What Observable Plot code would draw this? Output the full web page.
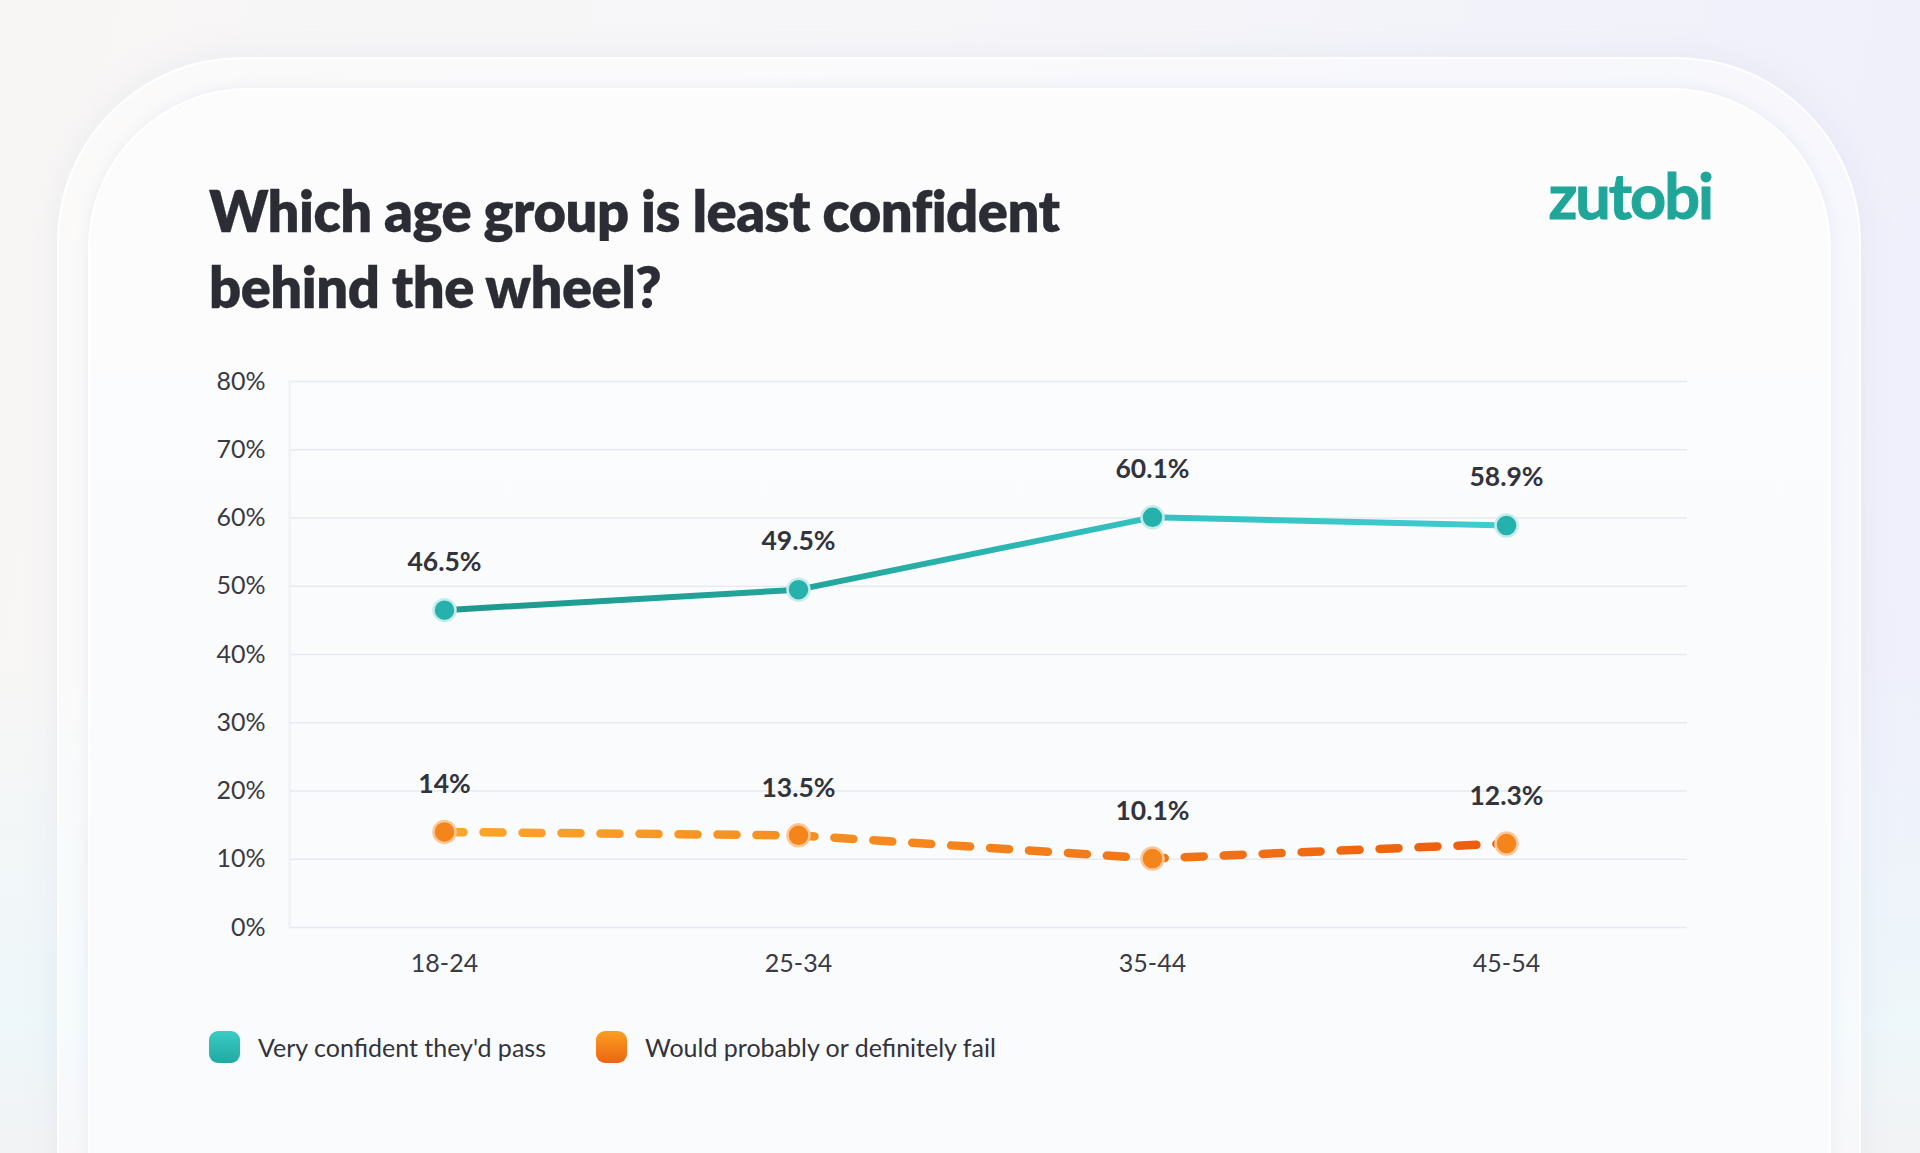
<!DOCTYPE html>
<html>
<head>
<meta charset="utf-8">
<script src="https://cdn.jsdelivr.net/npm/d3@7"></script>
<script src="https://cdn.jsdelivr.net/npm/@observablehq/plot@0.6"></script>
<style>
html, body { margin: 0; padding: 0; }
body { width: 1920px; height: 1153px; overflow: hidden; font-family: Lato, "Open Sans", sans-serif; }
#page { position: relative; width: 1920px; height: 1153px; overflow: hidden;
  background: linear-gradient(100deg, #f8f6f5 0%, #f6f6f9 45%, #eeeffb 100%); }
#bgbottom { position: absolute; left: 0; right: 0; bottom: 0; height: 500px;
  background: linear-gradient(180deg, rgba(238,247,250,0) 0%, #eef7fa 75%, #f2f3f4 100%); }
#outer { position: absolute; left: 57px; top: 57px; width: 1804px; height: 1300px; border-radius: 185px;
  background: rgba(255,255,255,0.45); border: 2px solid rgba(255,255,255,0.9);
  box-shadow: 0 0 30px rgba(200,205,225,0.25); box-sizing: border-box; }
#inner { position: absolute; left: 88px; top: 88px; width: 1743px; height: 1300px; border-radius: 160px;
  background: linear-gradient(180deg, #fcfcfd 0%, #fafbfc 60%, #f8fbfc 100%);
  border: 2px solid rgba(255,255,255,1); box-shadow: 0 0 14px rgba(215,220,235,0.45); box-sizing: border-box; }
#title { position: absolute; left: 209px; top: 173px; margin: 0; font-size: 56px; line-height: 76px;
  font-weight: 800; color: #2c2c34; letter-spacing: -0.5px; -webkit-text-stroke: 0.3px #2c2c34; }
#logo { position: absolute; right: 208px; top: 163px; font-size: 63px; line-height: 64px; font-weight: 700;
  color: #1fa699; letter-spacing: -2px; -webkit-text-stroke: 1px #1fa699; }
#chart { position: absolute; left: 0; top: 0; }
#legend { position: absolute; left: 209px; top: 1031px; display: flex; align-items: center; height: 32px;
  font-size: 25px; color: #33333b; }
.item { display: flex; align-items: center; margin-right: 50px; }
.sw { width: 31px; height: 32px; border-radius: 9px; margin-right: 18px; }
</style>
</head>
<body>
<div id="page">
  <div id="bgbottom"></div>
  <div id="outer"></div>
  <div id="inner"></div>
  <h1 id="title">Which age group is least confident<br>behind the wheel?</h1>
  <div id="logo">zutobi</div>
  <div id="chart"></div>
  <div id="legend"></div>
</div>
<script>
// ---- data ----
const ageGroups = ["18-24", "25-34", "35-44", "45-54"];
const confidentPass = [46.5, 49.5, 60.1, 58.9];
const wouldFail = [14, 13.5, 10.1, 12.3];
const yTicks = [0, 10, 20, 30, 40, 50, 60, 70, 80];
const seriesNames = ["Very confident they'd pass", "Would probably or definitely fail"];

const confident = ageGroups.map((age, i) => ({age, value: confidentPass[i]}));
const fail = ageGroups.map((age, i) => ({age, value: wouldFail[i]}));
const pct = d => `${d}%`;

const chart = Plot.plot({
  width: 1920,
  height: 1000,
  marginTop: 381,
  marginBottom: 73,
  marginLeft: 289,
  marginRight: 233,
  style: {background: "transparent", fontFamily: "Lato, sans-serif", color: "#3a3a42"},
  x: {type: "point", domain: ageGroups, range: [444, 1506], padding: 0},
  y: {domain: [0, 80]},
  marks: [
    Plot.ruleY(yTicks, {stroke: "#e7eaf1", strokeWidth: 1.6}),
    Plot.frame({anchor: "left", stroke: "#eef0f4", strokeWidth: 2}),
    Plot.axisY({ticks: yTicks, tickFormat: pct, tickSize: 0, tickPadding: 24, fontSize: 25, label: null, fill: "#3a3a42"}),
    Plot.axisX({tickSize: 0, tickPadding: 27, fontSize: 25, label: null, fill: "#3a3a42"}),
    Plot.line(fail, {x: "age", y: "value", stroke: "url(#orangeGrad)", strokeWidth: 8.5,
      strokeDasharray: "19 20", strokeLinecap: "round"}),
    Plot.line(confident, {x: "age", y: "value", stroke: "url(#tealGrad)", strokeWidth: 6, strokeLinecap: "round"}),
    Plot.dot(fail, {x: "age", y: "value", r: 11, fill: "#f4851a", stroke: "#fcc796", strokeWidth: 2.5}),
    Plot.dot(confident, {x: "age", y: "value", r: 11, fill: "#27b1ad", stroke: "#c4ecec", strokeWidth: 2.5}),
    Plot.text(confident, {x: "age", y: "value", text: d => pct(d.value), dy: -48, fontSize: 26.5, fontWeight: 700, fill: "#33333b"}),
    Plot.text(fail, {x: "age", y: "value", text: d => pct(d.value), dy: -47, fontSize: 26.5, fontWeight: 700, fill: "#33333b"})
  ]
});

// gradient definitions used by the lines
const ns = "http://www.w3.org/2000/svg";
const defs = document.createElementNS(ns, "defs");
function grad(id, stops) {
  const g = document.createElementNS(ns, "linearGradient");
  g.setAttribute("id", id);
  g.setAttribute("x1", "0"); g.setAttribute("x2", "1"); g.setAttribute("y1", "0"); g.setAttribute("y2", "0");
  stops.forEach(([o, c]) => {
    const s = document.createElementNS(ns, "stop");
    s.setAttribute("offset", o); s.setAttribute("stop-color", c);
    g.appendChild(s);
  });
  defs.appendChild(g);
}
grad("tealGrad", [["0%", "#1d998f"], ["35%", "#22a69c"], ["65%", "#33c1c0"], ["100%", "#40ccd0"]]);
grad("orangeGrad", [["0%", "#fba62a"], ["40%", "#f68a1e"], ["100%", "#ec5c0e"]]);
chart.insertBefore(defs, chart.firstChild);
document.getElementById("chart").appendChild(chart);

// legend
const swatches = ["linear-gradient(180deg,#3ccbc6,#1fa9a1)", "linear-gradient(180deg,#fc9e22,#ec6512)"];
const legend = document.getElementById("legend");
seriesNames.forEach((name, i) => {
  const item = document.createElement("div");
  item.className = "item";
  const sw = document.createElement("div");
  sw.className = "sw";
  sw.style.background = swatches[i];
  const label = document.createElement("span");
  label.textContent = name;
  item.appendChild(sw);
  item.appendChild(label);
  legend.appendChild(item);
});
</script>
</body>
</html>
